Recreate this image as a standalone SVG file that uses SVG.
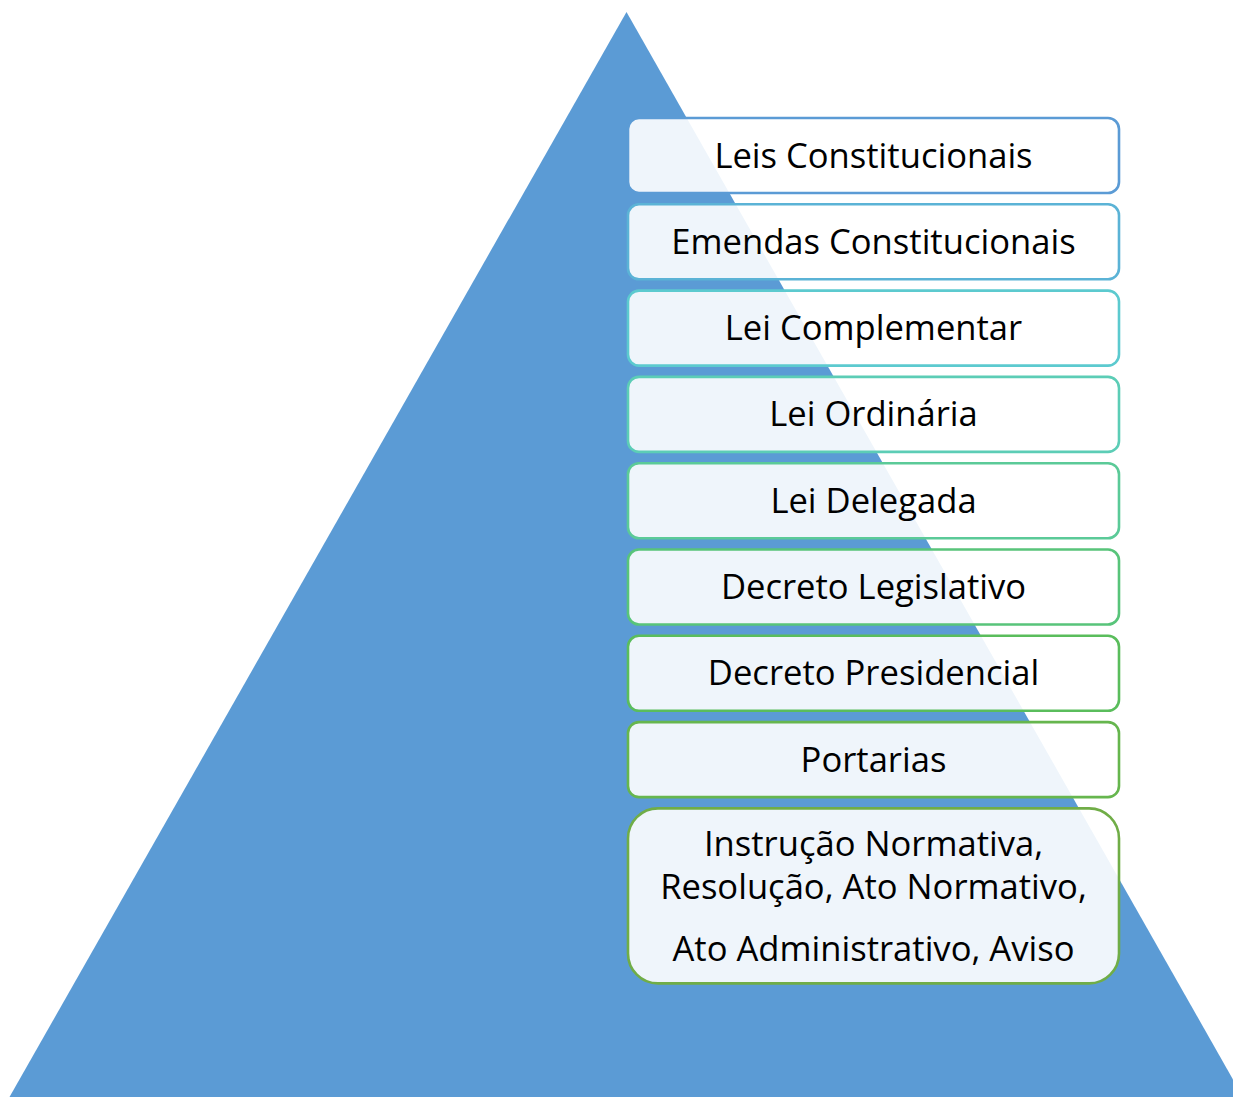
<svg xmlns="http://www.w3.org/2000/svg" width="1233" height="1097" viewBox="0 0 1233 1097">
<style>
.box{fill:#ffffff;fill-opacity:0.9;stroke-width:2.6}
.t{font-family:"Open Sans","Noto Sans","Liberation Sans",sans-serif;font-size:34.6px;fill:#000;text-anchor:middle}
</style>
<rect x="0" y="0" width="1233" height="1097" fill="#ffffff"/>
<g id="pyramid"><polygon points="626.5,12 1243,1097 9.5,1097" fill="#5B9BD5"/></g>
<g id="n1"><rect class="box" x="628" y="118" width="491" height="75" rx="11" stroke="#5B9BD5"/><text class="t" x="873.5" y="167.5">Leis Constitucionais</text></g>
<g id="n2"><rect class="box" x="628" y="204.3" width="491" height="75" rx="11" stroke="#5BB3D6"/><text class="t" x="873.5" y="253.8">Emendas Constitucionais</text></g>
<g id="n3"><rect class="box" x="628" y="290.6" width="491" height="75" rx="11" stroke="#5CCACF"/><text class="t" x="873.5" y="340.1">Lei Complementar</text></g>
<g id="n4"><rect class="box" x="628" y="376.9" width="491" height="75" rx="11" stroke="#5CCDB6"/><text class="t" x="873.5" y="426.4">Lei Ordinária</text></g>
<g id="n5"><rect class="box" x="628" y="463.2" width="491" height="75" rx="11" stroke="#5BCA98"/><text class="t" x="873.5" y="512.7">Lei Delegada</text></g>
<g id="n6"><rect class="box" x="628" y="549.5" width="491" height="75" rx="11" stroke="#58C47A"/><text class="t" x="873.5" y="599">Decreto Legislativo</text></g>
<g id="n7"><rect class="box" x="628" y="635.8" width="491" height="75" rx="11" stroke="#5ABD5C"/><text class="t" x="873.5" y="685.3">Decreto Presidencial</text></g>
<g id="n8"><rect class="box" x="628" y="722.1" width="491" height="75" rx="11" stroke="#66B64E"/><text class="t" x="873.5" y="771.6">Portarias</text></g>
<g id="n9"><rect class="box" x="628" y="808.4" width="491" height="175" rx="30" stroke="#70AD47"/><text class="t" x="873.5" y="855.5">Instrução Normativa,</text><text class="t" x="873.5" y="898.5">Resolução, Ato Normativo,</text><text class="t" x="873.5" y="960.5">Ato Administrativo, Aviso</text></g>
<g id="connectors"></g>
</svg>
